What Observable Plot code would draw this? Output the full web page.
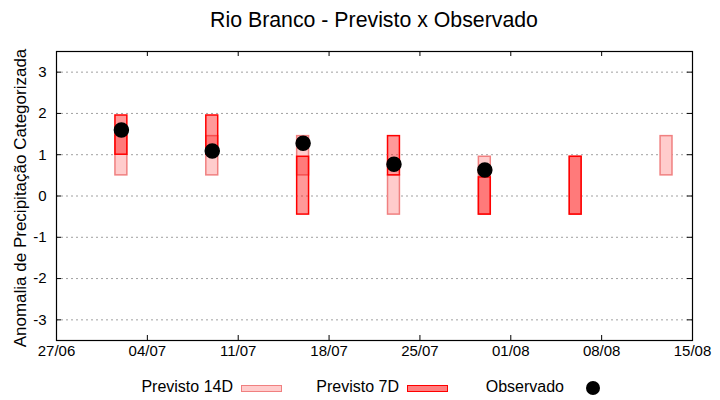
<!DOCTYPE html>
<html><head><meta charset="utf-8">
<script src="https://cdn.jsdelivr.net/npm/d3@7"></script>
<script src="https://cdn.jsdelivr.net/npm/@observablehq/plot@0.6"></script>
<style>
body{margin:0;background:#fff;font-family:"Liberation Sans",Arial,sans-serif;color:#000;}
#wrap{position:relative;width:720px;height:400px;overflow:hidden;background:#fff;}
#title{position:absolute;left:56px;width:636px;top:6px;height:28px;line-height:28px;text-align:center;font-size:21.3px;z-index:2;}
#ylabel{position:absolute;left:-129px;top:188px;width:300px;height:20px;line-height:20px;text-align:center;font-size:17px;transform:rotate(-90deg);transform-origin:center;white-space:nowrap;z-index:2;}
#chart{position:absolute;left:0;top:40px;z-index:1;}
.lg{position:absolute;font-size:16px;line-height:16px;white-space:nowrap;z-index:2;}
.sw{position:absolute;box-sizing:border-box;z-index:2;}
</style></head><body>
<div id="wrap">
  <div id="chart"></div>
  <div id="title">Rio Branco - Previsto x Observado</div>
  <div id="ylabel">Anomalia de Precipitação Categorizada</div>
</div>
<script>
// ---- data ----
const dates = ["2023-07-02","2023-07-09","2023-07-16","2023-07-23","2023-07-30","2023-08-06","2023-08-13"];
const prev14Low  = [0.5, 0.5, 0.5, -0.45, -0.45, -0.45, 0.5];
const prev14High = [1.45, 1.45, 1.45, 0.5, 0.95, 0.95, 1.45];
const prev7Low   = [1.0, 1.0, -0.45, 0.5, -0.45, -0.45, null];
const prev7High  = [1.95, 1.95, 0.95, 1.45, 0.45, 0.95, null];
const observed   = [1.60, 1.09, 1.28, 0.77, 0.63, null, null];
const xTickDates = ["2023-06-27","2023-07-04","2023-07-11","2023-07-18","2023-07-25","2023-08-01","2023-08-08","2023-08-15"];
const yTicks = [-3, -2, -1, 0, 1, 2, 3];
const legendLabels = ["Previsto 14D", "Previsto 7D", "Observado"];

const parse = s => new Date(s + "T00:00:00Z");
const rows14 = dates.map((d,i) => ({date: parse(d), lo: prev14Low[i], hi: prev14High[i]})).filter(r => r.lo != null);
const rows7 = dates.map((d,i) => ({date: parse(d), lo: prev7Low[i], hi: prev7High[i]})).filter(r => r.lo != null);
const rowsObs = dates.map((d,i) => ({date: parse(d), v: observed[i]})).filter(r => r.v != null);
const xTicks = xTickDates.map(parse);

const W = 720, H = 330, mL = 56, mR = 28, mT = 11, mB = 30;
const plotW = W - mL - mR, plotH = H - mT - mB;
const half = d => d3.utcHour.offset(d, -11), halfR = d => d3.utcHour.offset(d, 11);

const c14fill = "#ffcccc", c14stroke = "#f08080", c7fill = "#ff0000", c7stroke = "#ff0000";

const chart = Plot.plot({
  width: W, height: H,
  marginLeft: mL, marginRight: mR, marginTop: mT, marginBottom: mB,
  style: {fontFamily: "'Liberation Sans', Arial, sans-serif", fontSize: "15px", background: "white", color: "black"},
  x: {type: "utc", domain: [xTicks[0], xTicks[xTicks.length-1]]},
  y: {domain: [-3.5, 3.5]},
  marks: [
    Plot.ruleY(yTicks, {y: d => d, stroke: "#a0a0a0", strokeDasharray: "2,3", strokeWidth: 1}),
    Plot.rectY(rows14, {x1: d => half(d.date), x2: d => halfR(d.date), y1: "lo", y2: "hi", fill: c14fill, stroke: c14stroke, strokeWidth: 1.5}),
    Plot.rectY(rows7, {x1: d => half(d.date), x2: d => halfR(d.date), y1: "lo", y2: "hi", fill: c7fill, fillOpacity: 0.4, stroke: c7stroke, strokeWidth: 1.5}),
    Plot.dot(rowsObs, {x: "date", y: "v", r: 7, fill: "black", stroke: "black"}),
    // inward ticks on all sides
    Plot.ruleY(yTicks, {y: d => d, insetRight: plotW - 5, stroke: "black"}),
    Plot.ruleY(yTicks, {y: d => d, insetLeft: plotW - 5, stroke: "black"}),
    Plot.ruleX(xTicks, {x: d => d, insetTop: plotH - 5, stroke: "black"}),
    Plot.ruleX(xTicks, {x: d => d, insetBottom: plotH - 5, stroke: "black"}),
    Plot.frame({stroke: "black", strokeWidth: 1.2}),
    Plot.axisX({ticks: xTicks, tickFormat: d3.utcFormat("%d/%m"), tickSize: 0, tickPadding: 5, label: null}),
    Plot.axisY({ticks: yTicks, tickFormat: d => String(d), tickSize: 0, tickPadding: 10, label: null})
  ]
});
document.getElementById("chart").appendChild(chart);

// ---- legend ----
const wrap = document.getElementById("wrap");
function addText(txt, rightEdge) {
  const s = document.createElement("div");
  s.className = "lg"; s.textContent = txt;
  s.style.right = (W - rightEdge) + "px"; s.style.top = "379px";
  wrap.appendChild(s);
}
function addSwatch(left, fill, stroke) {
  const b = document.createElement("div");
  b.className = "sw";
  b.style.left = left + "px"; b.style.top = "385px"; b.style.width = "41px"; b.style.height = "7px";
  b.style.background = fill; b.style.border = "1.5px solid " + stroke;
  wrap.appendChild(b);
}
addText(legendLabels[0], 233); addSwatch(241, c14fill, c14stroke);
addText(legendLabels[1], 399); addSwatch(407, "rgba(255,0,0,0.5)", c7stroke);
addText(legendLabels[2], 564);
const dot = document.createElement("div");
dot.style.cssText = "position:absolute;left:586px;top:381px;width:14px;height:14px;border-radius:50%;background:black;z-index:2;";
wrap.appendChild(dot);
</script>
</body></html>
